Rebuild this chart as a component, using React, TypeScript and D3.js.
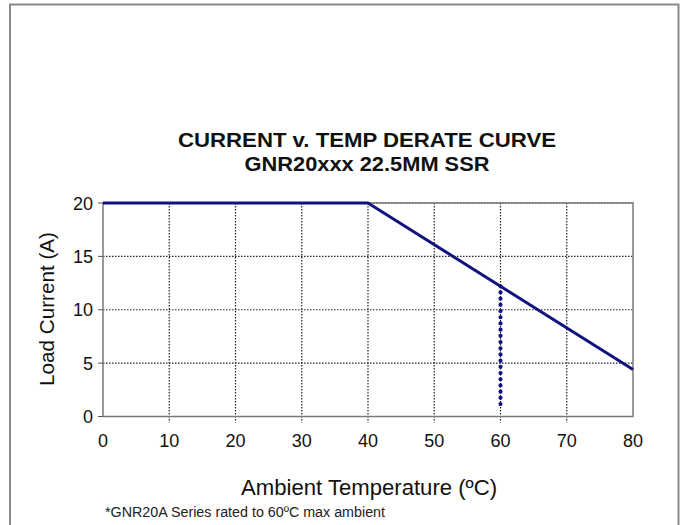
import React from "react";
import * as d3 from "d3";

const temps = [0, 40, 80];
const currents = [20, 20, 4.4];
const limitTemp = [60, 60];
const limitCurrent = [12.2, 0.7];
const xTicks = [0, 10, 20, 30, 40, 50, 60, 70, 80];
const yTicks = [0, 5, 10, 15, 20];
const titleLines = ["CURRENT v. TEMP DERATE CURVE", "GNR20xxx 22.5MM SSR"];
const xLabel = "Ambient Temperature (ºC)";
const yLabel = "Load Current (A)";
const footnote = "*GNR20A Series rated to 60ºC max ambient";

const W = 681;
const H = 525;
const left = 103;
const right = 633;
const top = 203;
const bottom = 416.5;
const font = "'Liberation Sans', Arial, sans-serif";
const navy = "#12127e";

export default function App() {
  const x = d3.scaleLinear().domain([0, 80]).range([left, right]);
  const y = d3.scaleLinear().domain([0, 20]).range([bottom, top]);
  const line = d3
    .line<number>()
    .x((_, i) => x(temps[i]))
    .y((d) => y(d));
  const limitLine = d3
    .line<number>()
    .x((_, i) => x(limitTemp[i]))
    .y((d) => y(d));

  return (
    <svg
      width={W}
      height={H}
      style={{ position: "absolute", left: 0, top: 0, background: "#fff" }}
    >
      <rect x={0} y={0} width={W} height={H} fill="#fff" />
      {/* outer frame */}
      <path
        d={`M10,${H + 5} V4.5 H678.5 V${H + 5}`}
        fill="none"
        stroke="#8a8a8a"
        strokeWidth={2}
      />
      {/* title */}
      {titleLines.map((t, i) => (
        <text
          key={t}
          x={(left + right) / 2 - 1}
          y={147 + i * 24}
          textAnchor="middle"
          fontFamily={font}
          fontWeight="bold"
          fontSize={21}
          textLength={i === 0 ? 378 : 245}
          lengthAdjust="spacingAndGlyphs"
          fill="#111"
        >
          {t}
        </text>
      ))}
      {/* horizontal gridlines */}
      {yTicks.slice(1).map((t) => (
        <line
          key={"h" + t}
          x1={left}
          x2={right}
          y1={y(t)}
          y2={y(t)}
          stroke="#222"
          strokeWidth={1.2}
          strokeDasharray="1.5 1.5"
        />
      ))}
      {/* vertical gridlines + ticks */}
      {xTicks.slice(1, -1).map((t) => (
        <line
          key={"v" + t}
          x1={x(t)}
          x2={x(t)}
          y1={top}
          y2={bottom + 6}
          stroke="#222"
          strokeWidth={1.2}
          strokeDasharray="1.5 1.5"
        />
      ))}
      {/* plot border */}
      <rect
        x={left}
        y={top}
        width={right - left}
        height={bottom - top}
        fill="none"
        stroke="#7a7a7a"
        strokeWidth={1.5}
      />
      {/* y ticks */}
      {yTicks.map((t) => (
        <line
          key={"yt" + t}
          x1={left - 5}
          x2={left}
          y1={y(t)}
          y2={y(t)}
          stroke="#555"
          strokeWidth={1}
        />
      ))}
      {/* y tick labels */}
      {yTicks.map((t) => (
        <text
          key={"yl" + t}
          x={93}
          y={y(t) + 6.5}
          textAnchor="end"
          fontFamily={font}
          fontSize={18}
          fill="#111"
        >
          {t}
        </text>
      ))}
      {/* x tick labels */}
      {xTicks.map((t) => (
        <text
          key={"xl" + t}
          x={x(t)}
          y={447}
          textAnchor="middle"
          fontFamily={font}
          fontSize={18}
          fill="#111"
        >
          {t}
        </text>
      ))}
      {/* derate curve */}
      <path
        d={line(currents) || ""}
        fill="none"
        stroke={navy}
        strokeWidth={3}
        strokeLinejoin="round"
      />
      {/* 60C limit dotted line */}
      <path
        d={limitLine(limitCurrent) || ""}
        fill="none"
        stroke={navy}
        strokeWidth={4.2}
        strokeLinecap="round"
        strokeDasharray="0 6.2"
      />
      {/* axis titles */}
      <text
        x={369}
        y={495}
        textAnchor="middle"
        fontFamily={font}
        fontSize={21.5}
        textLength={256}
        lengthAdjust="spacingAndGlyphs"
        fill="#111"
      >
        {xLabel}
      </text>
      <text
        transform={`translate(54,309) rotate(-90)`}
        textAnchor="middle"
        fontFamily={font}
        fontSize={21}
        textLength={154}
        lengthAdjust="spacingAndGlyphs"
        fill="#111"
      >
        {yLabel}
      </text>
      <text
        x={105}
        y={517}
        fontFamily={font}
        fontSize={14}
        textLength={280}
        lengthAdjust="spacingAndGlyphs"
        fill="#222"
      >
        {footnote}
      </text>
    </svg>
  );
}
